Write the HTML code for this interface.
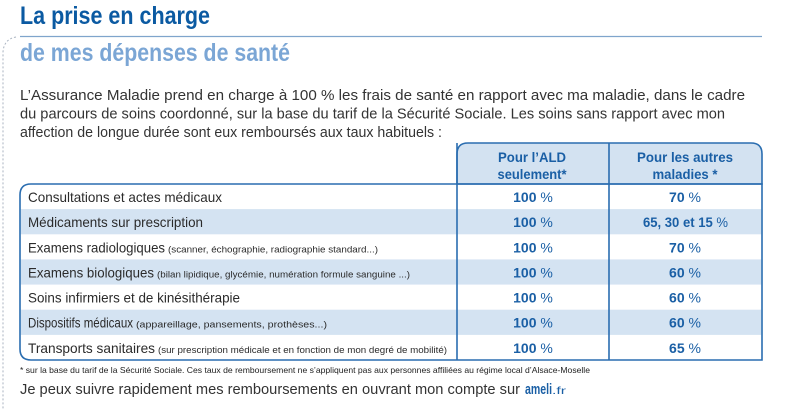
<!DOCTYPE html>
<html lang="fr">
<head>
<meta charset="utf-8">
<style>
  html, body { margin: 0; padding: 0; background: #ffffff; }
  body { width: 787px; height: 409px; overflow: hidden; }
  svg { display: block; }
  text { font-family: "Liberation Sans", "DejaVu Sans", sans-serif; }
</style>
</head>
<body>
<svg width="787" height="409" viewBox="0 0 787 409" xmlns="http://www.w3.org/2000/svg">
  <rect x="0" y="0" width="787" height="409" fill="#ffffff"/>

  <!-- Titles -->
  <text x="20" y="24" font-size="25" font-weight="bold" fill="#0b5aa2" textLength="190" lengthAdjust="spacingAndGlyphs">La prise en charge</text>
  <line x1="20" y1="36.5" x2="762" y2="36.5" stroke="#7fa5cc" stroke-width="1.2"/>
  <path d="M16,37 Q4,39 3,52 L3,409" fill="none" stroke="#a9b3c0" stroke-width="1" stroke-dasharray="2,2"/>
  <text x="20" y="61" font-size="25" font-weight="bold" fill="#7ba6d5" textLength="270" lengthAdjust="spacingAndGlyphs">de mes dépenses de santé</text>

  <!-- Paragraph -->
  <text x="20" y="100" font-size="15" fill="#333333" textLength="725" lengthAdjust="spacingAndGlyphs">L’Assurance Maladie prend en charge à 100 % les frais de santé en rapport avec ma maladie, dans le cadre</text>
  <text x="20" y="118.5" font-size="15" fill="#333333" textLength="705" lengthAdjust="spacingAndGlyphs">du parcours de soins coordonné, sur la base du tarif de la Sécurité Sociale. Les soins sans rapport avec mon</text>
  <text x="20" y="137" font-size="15" fill="#333333" textLength="422" lengthAdjust="spacingAndGlyphs">affection de longue durée sont eux remboursés aux taux habituels :</text>

  <!-- Header box -->
  <path d="M457,184 L457,154 Q457,143 468,143 L751,143 Q762,143 762,154 L762,184 Z" fill="#d3e2f1" stroke="#2a6db0" stroke-width="1.6"/>

  <!-- Stripes -->
  <rect x="20.8" y="209.1" width="740.4" height="25.2" fill="#d4e3f2"/>
  <rect x="20.8" y="259.4" width="740.4" height="25.2" fill="#d4e3f2"/>
  <rect x="20.8" y="309.7" width="740.4" height="25.2" fill="#d4e3f2"/>

  <!-- Main table outline -->
  <path d="M762,184 L31,184 Q20,184 20,195 L20,349 Q20,360 31,360 L762,360 Z" fill="none" stroke="#2a6db0" stroke-width="1.6"/>
  <line x1="457" y1="143" x2="457" y2="360" stroke="#2a6db0" stroke-width="1.6"/>
  <line x1="609" y1="143" x2="609" y2="360" stroke="#2a6db0" stroke-width="1.6"/>

  <!-- Header text -->
  <g font-size="14" font-weight="bold" fill="#1a5fa5" text-anchor="middle">
    <text x="532" y="162" textLength="68" lengthAdjust="spacingAndGlyphs">Pour l’ALD</text>
    <text x="532" y="179" textLength="69" lengthAdjust="spacingAndGlyphs">seulement*</text>
    <text x="685" y="162" textLength="96" lengthAdjust="spacingAndGlyphs">Pour les autres</text>
    <text x="685" y="179" textLength="65" lengthAdjust="spacingAndGlyphs">maladies *</text>
  </g>

  <!-- Row labels -->
  <g font-size="14" fill="#2b2b2b">
    <text x="28" y="202" textLength="194" lengthAdjust="spacingAndGlyphs">Consultations et actes médicaux</text>
    <text x="28" y="227" textLength="175" lengthAdjust="spacingAndGlyphs">Médicaments sur prescription</text>
    <text x="28" y="252.5" textLength="137" lengthAdjust="spacingAndGlyphs">Examens radiologiques</text>
    <text x="28" y="277.5" textLength="126" lengthAdjust="spacingAndGlyphs">Examens biologiques</text>
    <text x="28" y="302.5" textLength="212" lengthAdjust="spacingAndGlyphs">Soins infirmiers et de kinésithérapie</text>
    <text x="28" y="327.5" textLength="105" lengthAdjust="spacingAndGlyphs">Dispositifs médicaux</text>
    <text x="28" y="353" textLength="127" lengthAdjust="spacingAndGlyphs">Transports sanitaires</text>
  </g>
  <g font-size="9" fill="#2b2b2b">
    <text x="168" y="252.5" textLength="210" lengthAdjust="spacingAndGlyphs">(scanner, échographie, radiographie standard...)</text>
    <text x="157" y="277.5" textLength="253" lengthAdjust="spacingAndGlyphs">(bilan lipidique, glycémie, numération formule sanguine ...)</text>
    <text x="136" y="327.5" textLength="191" lengthAdjust="spacingAndGlyphs">(appareillage, pansements, prothèses...)</text>
    <text x="158" y="353" textLength="289" lengthAdjust="spacingAndGlyphs">(sur prescription médicale et en fonction de mon degré de mobilité)</text>
  </g>

  <!-- Values -->
  <g font-size="14" fill="#1a5fa5" text-anchor="middle">
    <text x="533" y="202"><tspan font-weight="bold">100</tspan> %</text>
    <text x="533" y="227"><tspan font-weight="bold">100</tspan> %</text>
    <text x="533" y="252.5"><tspan font-weight="bold">100</tspan> %</text>
    <text x="533" y="277.5"><tspan font-weight="bold">100</tspan> %</text>
    <text x="533" y="302.5"><tspan font-weight="bold">100</tspan> %</text>
    <text x="533" y="327.5"><tspan font-weight="bold">100</tspan> %</text>
    <text x="533" y="353"><tspan font-weight="bold">100</tspan> %</text>

    <text x="685" y="202"><tspan font-weight="bold">70</tspan> %</text>
    <text x="685.5" y="227" textLength="85" lengthAdjust="spacingAndGlyphs"><tspan font-weight="bold">65, 30 et 15</tspan> %</text>
    <text x="685" y="252.5"><tspan font-weight="bold">70</tspan> %</text>
    <text x="685" y="277.5"><tspan font-weight="bold">60</tspan> %</text>
    <text x="685" y="302.5"><tspan font-weight="bold">60</tspan> %</text>
    <text x="685" y="327.5"><tspan font-weight="bold">60</tspan> %</text>
    <text x="685" y="353"><tspan font-weight="bold">65</tspan> %</text>
  </g>

  <!-- Footnote -->
  <text x="20" y="373" font-size="8.5" fill="#222222" textLength="570" lengthAdjust="spacingAndGlyphs">* sur la base du tarif de la Sécurité Sociale. Ces taux de remboursement ne s’appliquent pas aux personnes affiliées au régime local d’Alsace-Moselle</text>

  <!-- Final line -->
  <text x="20" y="394" font-size="15" fill="#333333" textLength="500" lengthAdjust="spacingAndGlyphs">Je peux suivre rapidement mes remboursements en ouvrant mon compte sur</text>
  <text x="525" y="394" font-size="15" font-weight="bold" fill="#1a5fa5" textLength="27" lengthAdjust="spacingAndGlyphs">ameli</text>
  <text x="552" y="394" font-size="10" fill="#1a5fa5" textLength="14" lengthAdjust="spacingAndGlyphs">.fr</text>
</svg>
</body>
</html>
